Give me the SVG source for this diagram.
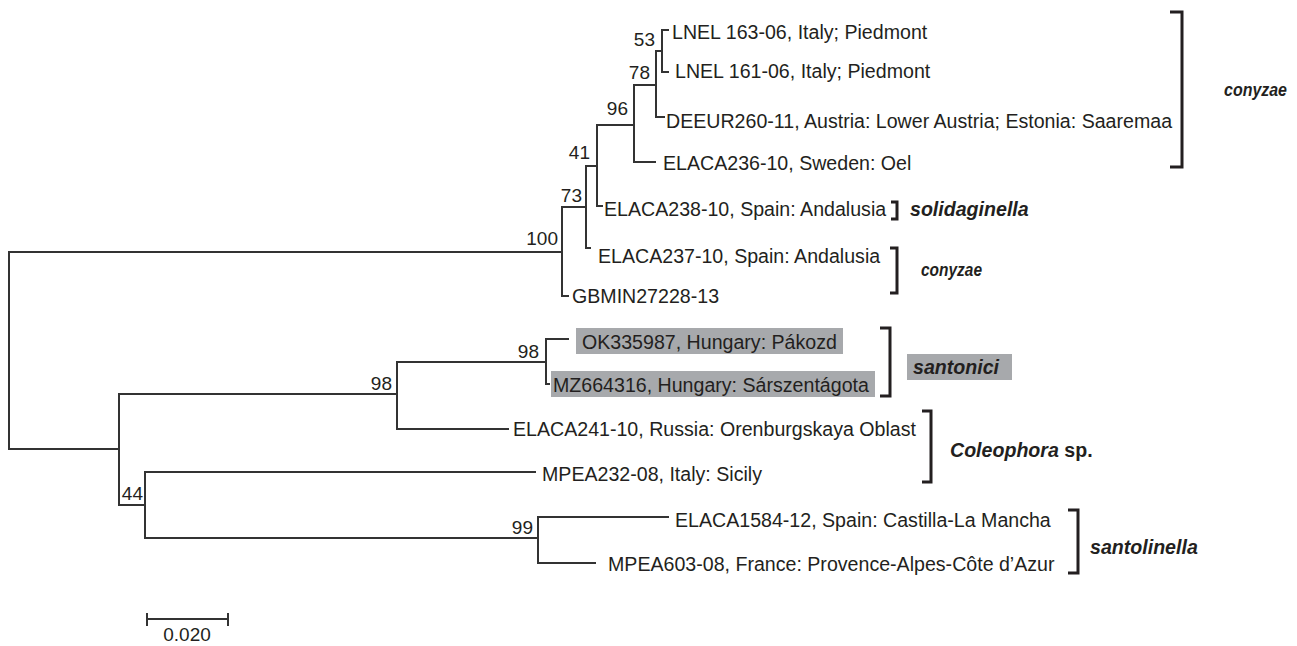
<svg xmlns="http://www.w3.org/2000/svg" width="1297" height="646" viewBox="0 0 1297 646">
<style>
.e{stroke:#333;stroke-width:2;fill:none;stroke-linecap:square}
.t{font-family:"Liberation Sans",Arial,sans-serif;font-size:19.6px;fill:#231f20}
.b{font-family:"Liberation Sans",Arial,sans-serif;font-size:19px;fill:#231f20;text-anchor:end}
.g{font-family:"Liberation Sans",Arial,sans-serif;font-size:19.6px;font-weight:bold;font-style:italic;fill:#231f20}
.c{font-size:18px}
.k{stroke:#231f20;stroke-width:3;fill:none}
.h{fill:#a7a9ac}
</style>
<rect width="1297" height="646" fill="#fff"/>
<g id="connectors" class="e">
<path d="M9,252V449M9,252H562M9,449H119"/>
<path d="M562,207V296M562,207H586M562,296H568"/>
<path d="M586,166V248M586,166H597M586,248H590"/>
<path d="M597,125V206M597,125H634M597,206H602"/>
<path d="M634,85V162M634,85H656M634,162H655"/>
<path d="M656,51V117M656,51H662M656,117H664"/>
<path d="M662,30V72M662,30H668M662,72H668"/>
<path d="M119,394V505M119,394H397M119,505H145"/>
<path d="M397,362V429M397,362H546M397,429H508"/>
<path d="M546,339V384M546,339H568M546,384H549"/>
<path d="M145,472V538M145,472H535M145,538H538"/>
<path d="M538,517V563M538,517H668M538,563H595"/>
</g>
<g id="bootstrap">
<text class="b" x="655" y="46">53</text>
<text class="b" x="650" y="79">78</text>
<text class="b" x="628" y="115">96</text>
<text class="b" x="590" y="159">41</text>
<text class="b" x="582" y="202">73</text>
<text class="b" x="558" y="245">100</text>
<text class="b" x="539" y="358">98</text>
<text class="b" x="392" y="390">98</text>
<text class="b" x="143" y="500">44</text>
<text class="b" x="533" y="534">99</text>
</g>
<g id="tip-LNEL163"><text class="t" x="672" y="39">LNEL 163-06, Italy; Piedmont</text></g>
<g id="tip-LNEL161"><text class="t" x="675" y="78">LNEL 161-06, Italy; Piedmont</text></g>
<g id="tip-DEEUR260"><text class="t" x="666" y="128">DEEUR260-11, Austria: Lower Austria; Estonia: Saaremaa</text></g>
<g id="tip-ELACA236"><text class="t" x="663" y="170">ELACA236-10, Sweden: Oel</text></g>
<g id="tip-ELACA238"><text class="t" x="604" y="216">ELACA238-10, Spain: Andalusia</text></g>
<g id="tip-ELACA237"><text class="t" x="598" y="263">ELACA237-10, Spain: Andalusia</text></g>
<g id="tip-GBMIN"><text class="t" x="572" y="303">GBMIN27228-13</text></g>
<g id="tip-OK335987"><rect class="h" x="576" y="328" width="267" height="26"/><text class="t" x="582" y="349">OK335987, Hungary: Pákozd</text></g>
<g id="tip-MZ664316"><rect class="h" x="551" y="371" width="324" height="26"/><text class="t" x="553" y="392">MZ664316, Hungary: Sárszentágota</text></g>
<g id="tip-ELACA241"><text class="t" x="513" y="436">ELACA241-10, Russia: Orenburgskaya Oblast</text></g>
<g id="tip-MPEA232"><text class="t" x="542" y="481">MPEA232-08, Italy: Sicily</text></g>
<g id="tip-ELACA1584"><text class="t" x="675" y="527">ELACA1584-12, Spain: Castilla-La Mancha</text></g>
<g id="tip-MPEA603"><text class="t" x="608" y="571">MPEA603-08, France: Provence-Alpes-Côte d’Azur</text></g>
<g id="clade-conyzae-1"><path class="k" d="M1170,12H1182V167H1170"/><text class="g c" x="1224" y="96" textLength="63" lengthAdjust="spacingAndGlyphs">conyzae</text></g>
<g id="clade-solidaginella"><path class="k" d="M891,202H897V219H891"/><text class="g" x="910" y="216">solidaginella</text></g>
<g id="clade-conyzae-2"><path class="k" d="M890,248H897V293H890"/><text class="g c" x="921" y="276" textLength="61" lengthAdjust="spacingAndGlyphs">conyzae</text></g>
<g id="clade-santonici"><path class="k" d="M880,328H890V396H880"/><rect class="h" x="907" y="354" width="105" height="26"/><text class="g" x="913" y="374">santonici</text></g>
<g id="clade-coleophora"><path class="k" d="M922,411H931V482H922"/><text class="g" x="950" y="457">Coleophora<tspan font-style="normal"> sp.</tspan></text></g>
<g id="clade-santolinella"><path class="k" d="M1068,510H1078V573H1068"/><text class="g" x="1090" y="554">santolinella</text></g>
<g id="scale">
<path class="e" d="M147,619H228M147,614V625M228,614V625"/>
<text class="t" x="187" y="641" text-anchor="middle" style="font-size:19px">0.020</text>
</g>
</svg>
